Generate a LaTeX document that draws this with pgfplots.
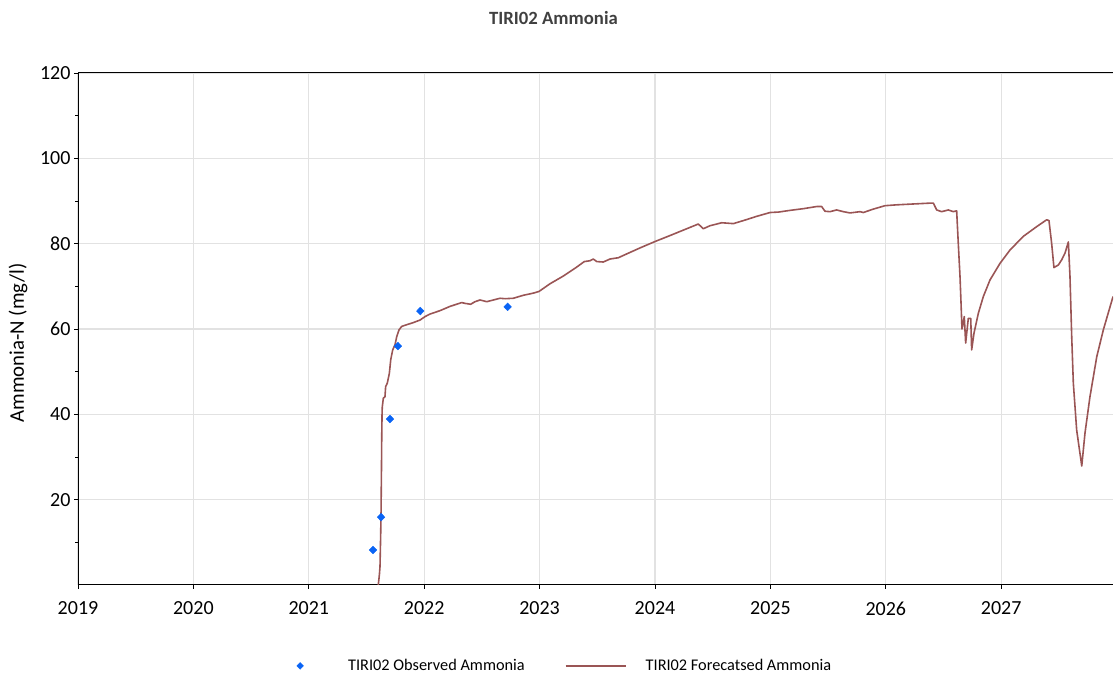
\documentclass[border=0pt]{standalone}
\usepackage{pgfplots}
\pgfplotsset{compat=1.18}
\usepackage{fontspec}
\setmainfont{Carlito}

\definecolor{obsblue}{HTML}{0A64F5}
\definecolor{fcred}{HTML}{9A5555}
\definecolor{gridgray}{HTML}{E2E2E2}
\definecolor{titlegray}{HTML}{404040}

% Legend images with wider spacing than the defaults
\pgfplotsset{
  obslegend/.style={legend image code/.code={
    \path[draw=none, fill=none] (-25pt,0pt) -- (46pt,0pt);
    \draw[##1, mark size=3.4pt] plot coordinates {(0pt,0pt)};}},
  fclegend/.style={legend image code/.code={
    \path[draw=none, fill=none] (0pt,0pt) -- (79pt,0pt);
    \draw[##1] (1pt,0pt) -- (61pt,0pt);}},
}

% Observed ammonia samples (decimal year, mg/l)
\pgfplotstableread{
x y
2021.556 8.2
2021.626 15.9
2021.703 38.9
2021.772 56.0
2021.966 64.2
2022.723 65.2
}\observed

% Forecasted ammonia (decimal year, mg/l)
\pgfplotstableread{
x y
2021.602 0.0
2021.612 2.5
2021.617 4.3
2021.623 12.0
2021.626 16.9
2021.630 28.0
2021.632 34.7
2021.635 40.5
2021.637 41.8
2021.646 43.8
2021.660 44.1
2021.666 46.5
2021.680 47.3
2021.698 49.6
2021.710 52.8
2021.727 55.1
2021.747 56.3
2021.762 58.2
2021.782 59.8
2021.805 60.6
2021.848 61.0
2021.906 61.5
2021.964 62.1
2022.007 62.9
2022.050 63.5
2022.137 64.3
2022.224 65.3
2022.325 66.2
2022.354 66.0
2022.403 65.8
2022.440 66.4
2022.484 66.8
2022.542 66.4
2022.657 67.2
2022.700 67.1
2022.772 67.2
2022.859 67.9
2022.945 68.4
2022.995 68.8
2023.090 70.6
2023.205 72.4
2023.321 74.5
2023.387 75.8
2023.437 76.0
2023.465 76.4
2023.495 75.8
2023.552 75.7
2023.610 76.4
2023.682 76.7
2023.755 77.6
2023.870 79.0
2024.000 80.5
2024.130 81.9
2024.275 83.5
2024.375 84.6
2024.419 83.5
2024.476 84.2
2024.578 84.9
2024.679 84.7
2024.765 85.4
2024.881 86.4
2024.997 87.3
2025.069 87.4
2025.170 87.8
2025.285 88.2
2025.401 88.7
2025.444 88.7
2025.473 87.6
2025.516 87.5
2025.574 87.9
2025.632 87.5
2025.690 87.2
2025.777 87.5
2025.805 87.3
2025.892 88.1
2025.993 88.9
2026.094 89.1
2026.238 89.3
2026.383 89.5
2026.412 89.5
2026.441 87.9
2026.484 87.5
2026.542 87.9
2026.585 87.5
2026.614 87.7
2026.628 80.1
2026.643 72.3
2026.652 66.0
2026.660 60.0
2026.680 62.9
2026.692 56.7
2026.715 62.5
2026.736 62.5
2026.744 55.1
2026.764 59.0
2026.802 63.7
2026.845 67.6
2026.903 71.5
2026.990 75.4
2027.076 78.5
2027.191 81.7
2027.308 84.0
2027.394 85.6
2027.414 85.4
2027.437 80.1
2027.457 74.4
2027.495 75.0
2027.524 76.2
2027.553 77.8
2027.582 80.4
2027.596 72.3
2027.611 58.2
2027.625 47.3
2027.654 36.3
2027.698 27.9
2027.726 35.6
2027.769 44.1
2027.828 53.5
2027.885 59.8
2027.969 67.6
}\forecast

\begin{document}
\begin{tikzpicture}[x=1pt,y=1pt]
\useasboundingbox (0,0) rectangle (1114,677);
\begin{axis}[
  at={(78pt,92pt)}, anchor=south west,
  scale only axis, width=1035pt, height=512pt,
  xmin=2019, xmax=2027.969, ymin=0, ymax=120,
  axis x line*=bottom, axis y line*=left,
  xtick={2019,2020,...,2027},
  ytick={20,40,...,120},
  minor ytick={10,30,...,110},
  xticklabels={2019,2020,2021,2022,2023,2024,2025,2026,2027},
  yticklabels={20,40,60,80,100,120},
  ticklabel style={font=\fontsize{20}{24}\selectfont},
  xticklabel style={yshift=-9pt},
  tick align=outside,
  major tick length=4pt, minor tick length=3pt,
  tick style={black, line width=0.8pt},
  axis line style={black, line width=1pt},
  grid=major,
  major grid style={gridgray, line width=1.2pt},
  clip=true,
  legend style={at={(0.1903,-0.158)}, anchor=west, draw=none, fill=none,
    inner sep=0pt, legend columns=2, font=\fontsize{16.3}{19}\selectfont,
    /tikz/every even column/.append style={column sep=38pt}},
  legend cell align=left,
]
\draw[black, line width=1pt] (rel axis cs:0,1) -- (rel axis cs:1,1);
\addplot[only marks, mark=diamond*, mark size=3.9pt, obsblue,
  mark options={xscale=1.3}, obslegend]
  table[x=x,y=y] {\observed};
\addlegendentry{TIRI02 Observed Ammonia}
\addplot[fcred, line width=1.6pt, line join=round, fclegend]
  table[x=x,y=y] {\forecast};
\addlegendentry{TIRI02 Forecatsed Ammonia}
\end{axis}
\node[font=\bfseries\fontsize{18.7}{22}\selectfont, text=titlegray] at (553.5,659) {TIRI02 Ammonia};
\node[rotate=90, font=\fontsize{20.8}{24}\selectfont] at (18,334) {Ammonia-N (mg/l)};
\end{tikzpicture}
\end{document}
